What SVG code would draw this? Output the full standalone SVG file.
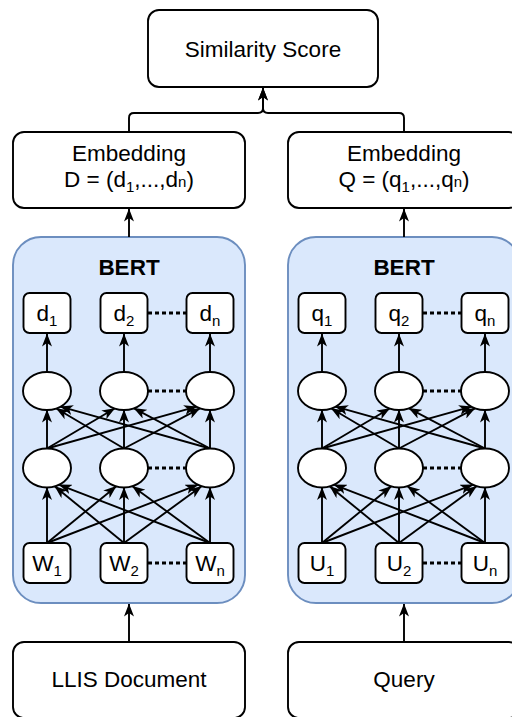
<svg xmlns="http://www.w3.org/2000/svg" width="512" height="717" viewBox="0 0 512 717">
<style>
.box{fill:#ffffff;stroke:#000000;stroke-width:1.9}
.bert{fill:#dae8fc;stroke:#6c8ebf;stroke-width:1.9}
.t{font-family:"Liberation Sans",Arial,sans-serif;font-size:22.5px;fill:#000000;text-anchor:middle}
.b{font-weight:bold}
.sub{font-size:15px}
.edge{fill:none;stroke:#000000;stroke-width:1.9}
.arr{marker-end:url(#ah)}
.dot{fill:none;stroke:#000000;stroke-width:3;stroke-dasharray:4 3}
</style>
<defs>
<marker id="ah" viewBox="0 0 13 10" refX="12.5" refY="5" markerWidth="13" markerHeight="10" markerUnits="userSpaceOnUse" orient="auto">
<path d="M0,0 L13,5 L0,10 L3.5,5 Z" fill="#000000"/>
</marker>
</defs>

<g id="bert-left">
<rect class="bert" x="13" y="237" width="232" height="366" rx="28"/>
<text class="t b" x="129" y="275">BERT</text>
</g>
<g id="bert-right">
<rect class="bert" x="288" y="237" width="232" height="366" rx="28"/>
<text class="t b" x="404" y="275">BERT</text>
</g>

<g id="connectors">
<path class="edge arr" d="M129,132 V118 Q129,113 134,113 H258 Q263,113 263,108 V88"/>
<path class="edge arr" d="M404,132 V118 Q404,113 399,113 H268 Q263,113 263,108 V88"/>
<path class="edge arr" d="M129,237 V209"/>
<path class="edge arr" d="M404,237 V209"/>
<path class="edge arr" d="M129,642 V604"/>
<path class="edge arr" d="M404,642 V604"/>
<!-- left: ellipses row1 to d boxes -->
<path class="edge arr" d="M47,372 V334"/>
<path class="edge arr" d="M124,372 V334"/>
<path class="edge arr" d="M210,372 V334"/>
<!-- left: row2 to row1 -->
<path class="edge arr" d="M47,448.5 L47,410"/>
<path class="edge arr" d="M47,448.5 L114.6,408.5"/>
<path class="edge arr" d="M47,448.5 L196.5,406.7"/>
<path class="edge arr" d="M124,448.5 L56.4,408.5"/>
<path class="edge arr" d="M124,448.5 L124,410"/>
<path class="edge arr" d="M124,448.5 L200,408.3"/>
<path class="edge arr" d="M210,448.5 L60.5,406.7"/>
<path class="edge arr" d="M210,448.5 L134,408.3"/>
<path class="edge arr" d="M210,448.5 L210,410"/>
<!-- left: W to row2 -->
<path class="edge arr" d="M47,543 L47,487.5"/>
<path class="edge arr" d="M47,543 L116.1,486.4"/>
<path class="edge arr" d="M47,543 L197.7,484.8"/>
<path class="edge arr" d="M124,543 L54.9,486.4"/>
<path class="edge arr" d="M124,543 L124,487.5"/>
<path class="edge arr" d="M124,543 L201.5,486.2"/>
<path class="edge arr" d="M210,543 L59.3,484.8"/>
<path class="edge arr" d="M210,543 L132.5,486.2"/>
<path class="edge arr" d="M210,543 L210,487.5"/>
<!-- right: ellipses row1 to q boxes -->
<path class="edge arr" d="M322,372 V334"/>
<path class="edge arr" d="M399,372 V334"/>
<path class="edge arr" d="M485,372 V334"/>
<!-- right: row2 to row1 -->
<path class="edge arr" d="M322,448.5 L322,410"/>
<path class="edge arr" d="M322,448.5 L389.6,408.5"/>
<path class="edge arr" d="M322,448.5 L471.5,406.7"/>
<path class="edge arr" d="M399,448.5 L331.4,408.5"/>
<path class="edge arr" d="M399,448.5 L399,410"/>
<path class="edge arr" d="M399,448.5 L475,408.3"/>
<path class="edge arr" d="M485,448.5 L335.5,406.7"/>
<path class="edge arr" d="M485,448.5 L409,408.3"/>
<path class="edge arr" d="M485,448.5 L485,410"/>
<!-- right: U to row2 -->
<path class="edge arr" d="M322,543 L322,487.5"/>
<path class="edge arr" d="M322,543 L391.1,486.4"/>
<path class="edge arr" d="M322,543 L472.7,484.8"/>
<path class="edge arr" d="M399,543 L329.9,486.4"/>
<path class="edge arr" d="M399,543 L399,487.5"/>
<path class="edge arr" d="M399,543 L476.5,486.2"/>
<path class="edge arr" d="M485,543 L334.3,484.8"/>
<path class="edge arr" d="M485,543 L407.5,486.2"/>
<path class="edge arr" d="M485,543 L485,487.5"/>
<!-- dotted links -->
<path class="dot" d="M148,313 H186"/>
<path class="dot" d="M148,391 H186"/>
<path class="dot" d="M148,468 H186"/>
<path class="dot" d="M148,563 H186"/>
<path class="dot" d="M423,313 H461"/>
<path class="dot" d="M423,391 H461"/>
<path class="dot" d="M423,468 H461"/>
<path class="dot" d="M423,563 H461"/>
</g>

<g id="similarity">
<rect class="box" x="148" y="10" width="230" height="77" rx="11"/>
<text class="t" x="263" y="57">Similarity Score</text>
</g>
<g id="embedding-d">
<rect class="box" x="13" y="132" width="232" height="76" rx="11"/>
<text class="t" x="129" y="161">Embedding</text>
<text class="t" x="129" y="187">D = (d<tspan class="sub" dy="5">1</tspan><tspan dy="-5">,...,d</tspan><tspan class="sub">n</tspan>)</text>
</g>
<g id="embedding-q">
<rect class="box" x="288" y="132" width="232" height="76" rx="11"/>
<text class="t" x="404" y="161">Embedding</text>
<text class="t" x="404" y="187">Q = (q<tspan class="sub" dy="5">1</tspan><tspan dy="-5">,...,q</tspan><tspan class="sub">n</tspan>)</text>
</g>

<g id="d1"><rect class="box" x="23.5" y="293" width="47" height="40" rx="6"/><text class="t" x="47" y="321">d<tspan class="sub" dy="5">1</tspan></text></g>
<g id="d2"><rect class="box" x="100.5" y="293" width="47" height="40" rx="6"/><text class="t" x="124" y="321">d<tspan class="sub" dy="5">2</tspan></text></g>
<g id="dn"><rect class="box" x="186.5" y="293" width="47" height="40" rx="6"/><text class="t" x="210" y="321">d<tspan class="sub" dy="5">n</tspan></text></g>
<g id="l-h1-1"><ellipse class="box" cx="47" cy="391" rx="24" ry="19"/></g>
<g id="l-h1-2"><ellipse class="box" cx="124" cy="391" rx="24" ry="19"/></g>
<g id="l-h1-n"><ellipse class="box" cx="210" cy="391" rx="24" ry="19"/></g>
<g id="l-h2-1"><ellipse class="box" cx="47" cy="468" rx="24" ry="19.5"/></g>
<g id="l-h2-2"><ellipse class="box" cx="124" cy="468" rx="24" ry="19.5"/></g>
<g id="l-h2-n"><ellipse class="box" cx="210" cy="468" rx="24" ry="19.5"/></g>
<g id="w1"><rect class="box" x="23.5" y="543" width="47" height="40" rx="6"/><text class="t" x="47" y="571">W<tspan class="sub" dy="5">1</tspan></text></g>
<g id="w2"><rect class="box" x="100.5" y="543" width="47" height="40" rx="6"/><text class="t" x="124" y="571">W<tspan class="sub" dy="5">2</tspan></text></g>
<g id="wn"><rect class="box" x="186.5" y="543" width="47" height="40" rx="6"/><text class="t" x="210" y="571">W<tspan class="sub" dy="5">n</tspan></text></g>

<g id="q1"><rect class="box" x="298.5" y="293" width="47" height="40" rx="6"/><text class="t" x="322" y="321">q<tspan class="sub" dy="5">1</tspan></text></g>
<g id="q2"><rect class="box" x="375.5" y="293" width="47" height="40" rx="6"/><text class="t" x="399" y="321">q<tspan class="sub" dy="5">2</tspan></text></g>
<g id="qn"><rect class="box" x="461.5" y="293" width="47" height="40" rx="6"/><text class="t" x="485" y="321">q<tspan class="sub" dy="5">n</tspan></text></g>
<g id="r-h1-1"><ellipse class="box" cx="322" cy="391" rx="24" ry="19"/></g>
<g id="r-h1-2"><ellipse class="box" cx="399" cy="391" rx="24" ry="19"/></g>
<g id="r-h1-n"><ellipse class="box" cx="485" cy="391" rx="24" ry="19"/></g>
<g id="r-h2-1"><ellipse class="box" cx="322" cy="468" rx="24" ry="19.5"/></g>
<g id="r-h2-2"><ellipse class="box" cx="399" cy="468" rx="24" ry="19.5"/></g>
<g id="r-h2-n"><ellipse class="box" cx="485" cy="468" rx="24" ry="19.5"/></g>
<g id="u1"><rect class="box" x="298.5" y="543" width="47" height="40" rx="6"/><text class="t" x="322" y="571">U<tspan class="sub" dy="5">1</tspan></text></g>
<g id="u2"><rect class="box" x="375.5" y="543" width="47" height="40" rx="6"/><text class="t" x="399" y="571">U<tspan class="sub" dy="5">2</tspan></text></g>
<g id="un"><rect class="box" x="461.5" y="543" width="47" height="40" rx="6"/><text class="t" x="485" y="571">U<tspan class="sub" dy="5">n</tspan></text></g>

<g id="llis">
<rect class="box" x="13" y="642" width="232" height="76" rx="11"/>
<text class="t" x="129" y="687">LLIS Document</text>
</g>
<g id="query">
<rect class="box" x="288" y="642" width="232" height="76" rx="11"/>
<text class="t" x="404" y="687">Query</text>
</g>
</svg>
